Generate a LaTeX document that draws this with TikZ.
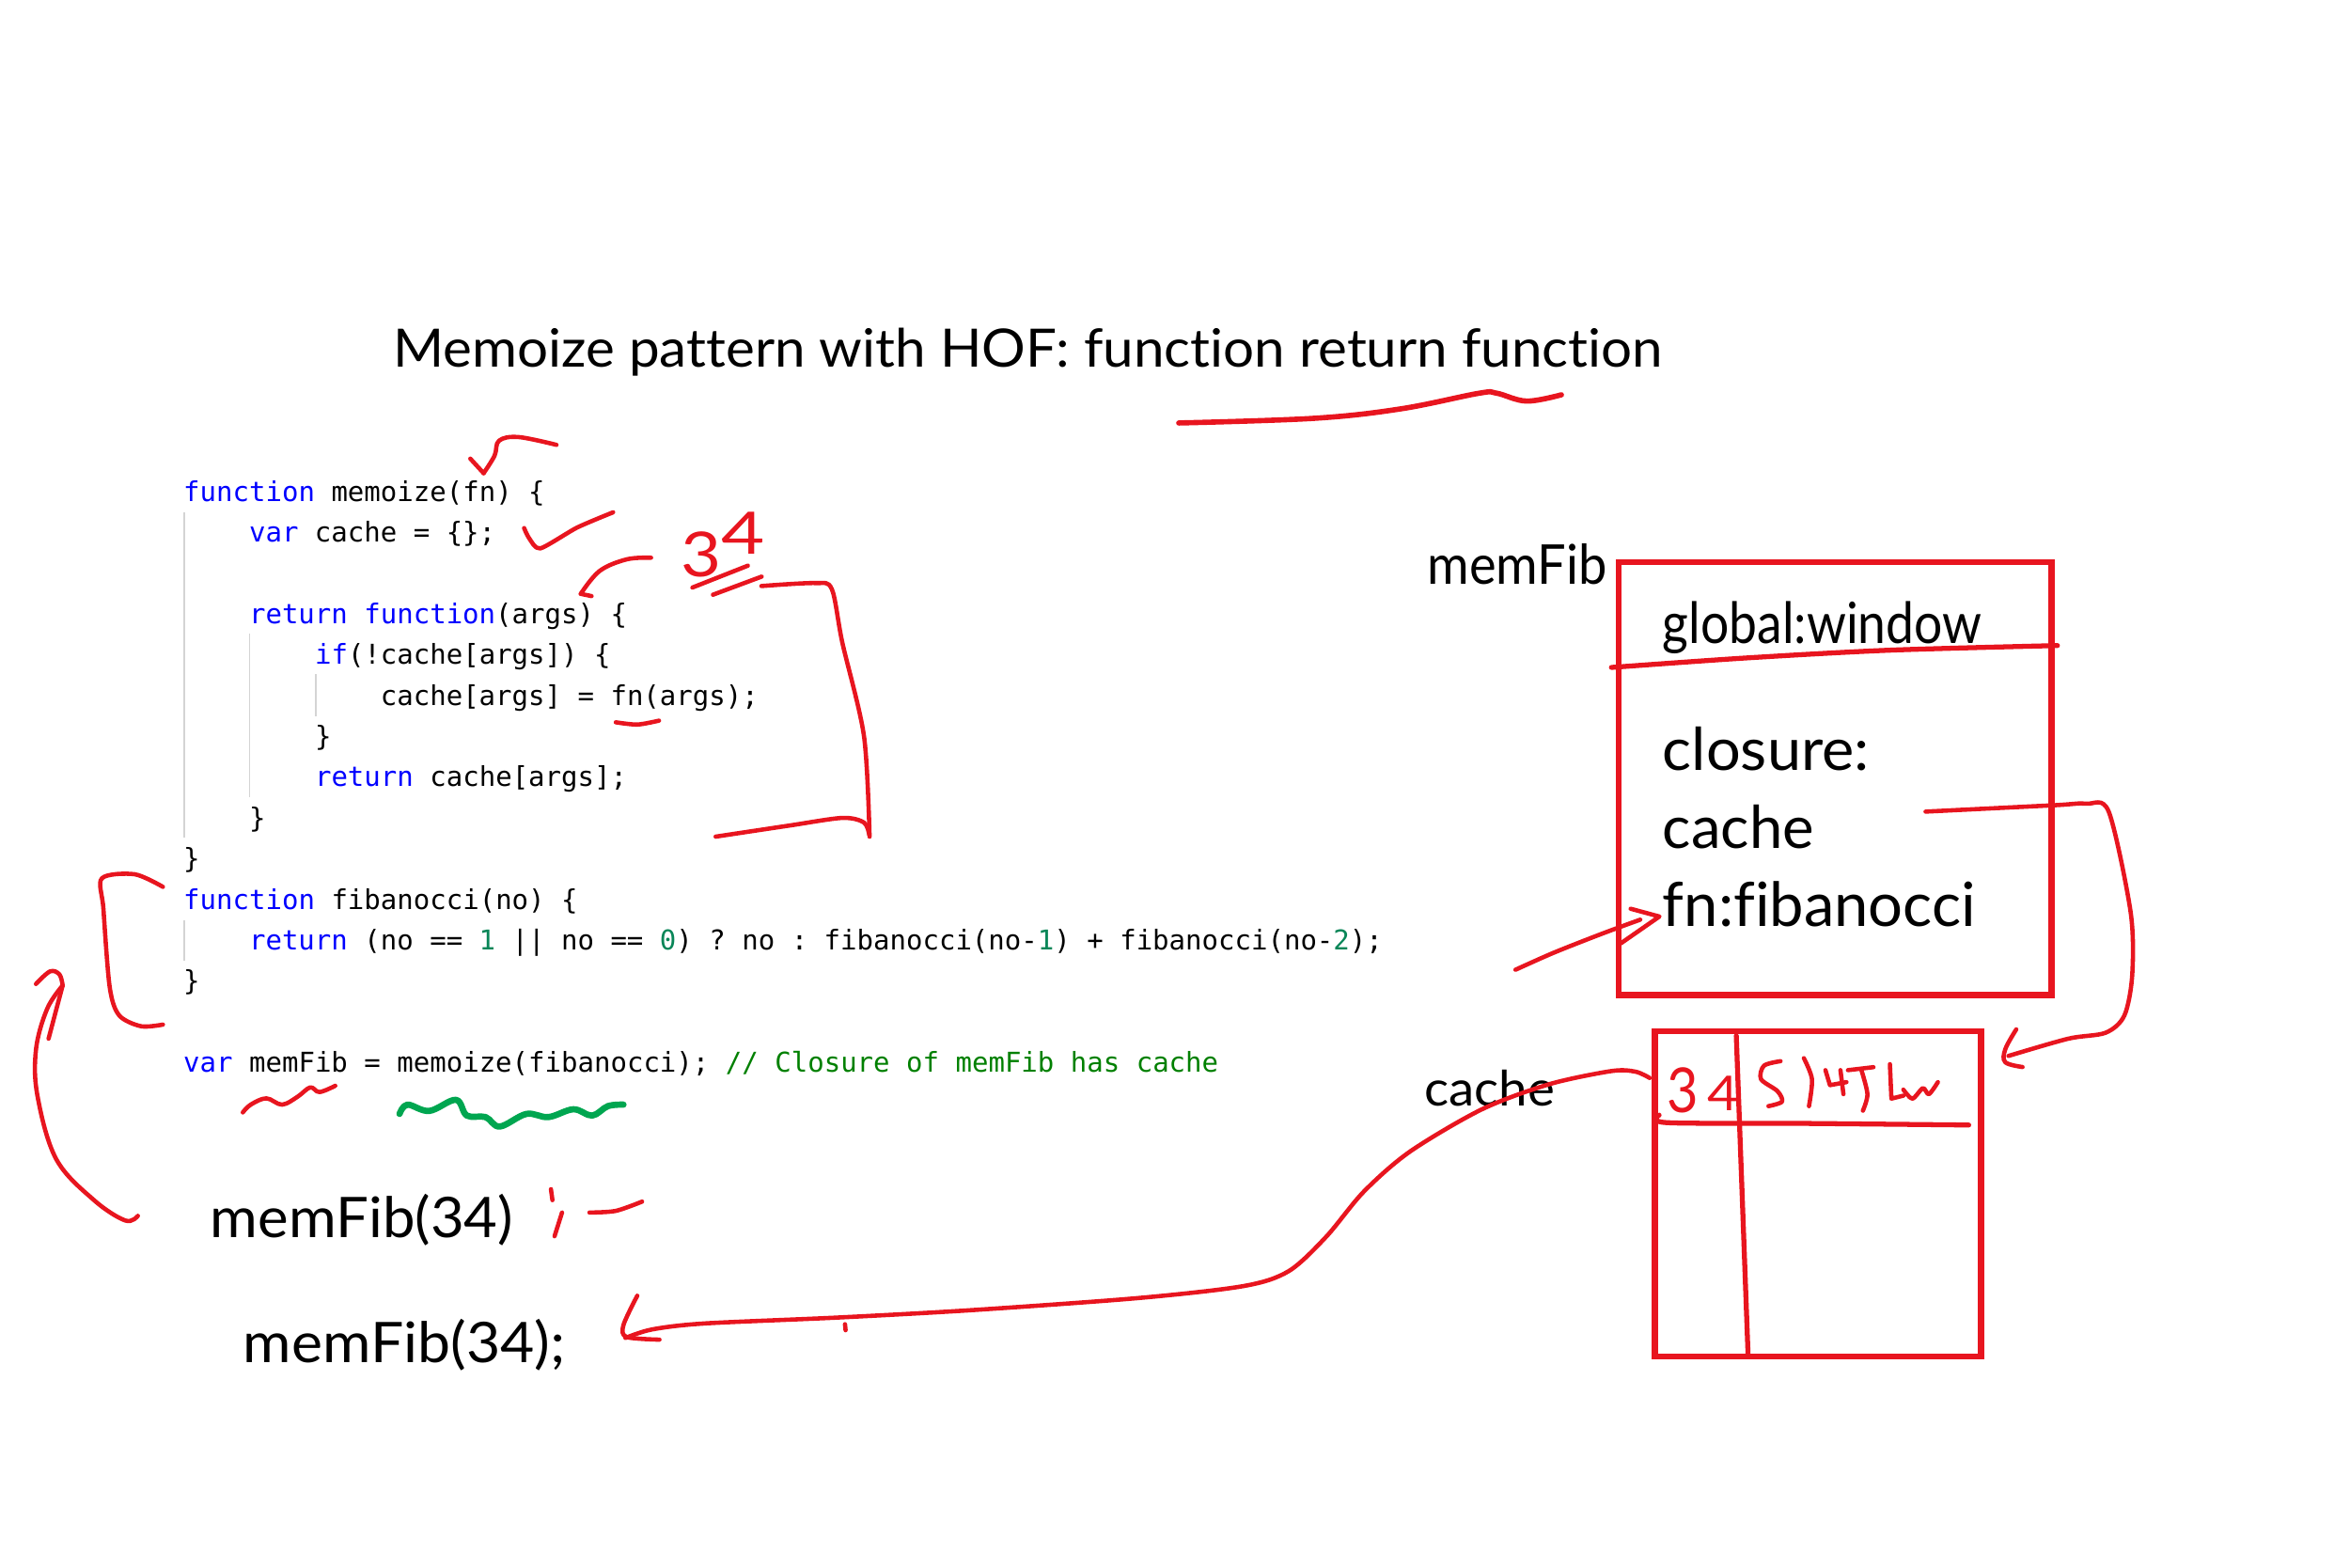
\documentclass[tikz,border=0pt]{standalone}
\usepackage{fontspec}
\usepackage{graphicx}
\setmonofont{DejaVu Sans Mono}
\newfontfamily\hand[Ligatures=NoCommon]{Lato}
\definecolor{inkred}{HTML}{E8151F}
\definecolor{inkgreen}{HTML}{00A650}
\definecolor{kwblue}{HTML}{0000FF}
\definecolor{numteal}{HTML}{098658}
\definecolor{cmtgreen}{HTML}{008000}
\definecolor{guidegray}{HTML}{D4D4D4}
\newdimen\dpx \dpx=0.45357pt
\newcommand\hw[3]{\resizebox{#1\dpx}{#2\dpx}{\hand #3}}
\newcommand\kw[1]{\textcolor{kwblue}{#1}}
\newcommand\nm[1]{\textcolor{numteal}{#1}}
\tikzset{
  code/.style={anchor=base west, inner sep=0pt, font=\fontsize{8.26pt}{10pt}\ttfamily, text=black},
  handtext/.style={anchor=base west, inner sep=0pt, text=black},
  redhand/.style={anchor=base west, inner sep=0pt, text=inkred},
  ink/.style={draw=inkred, line width=1.3pt, line cap=round, line join=round},
  boxink/.style={draw=inkred, line width=1.9pt, line cap=round, line join=round},
  greenink/.style={draw=inkgreen, line width=1.9pt, line cap=round, line join=round},
  guide/.style={draw=guidegray, line width=0.5pt},
  boxnode/.style={draw=inkred, line width=1.9pt, inner sep=0pt, fill=none},
}
\begin{document}
\begin{tikzpicture}[x=0.015944cm, y=-0.015944cm]
\fill[white] (0,0) rectangle (1568,1046);
\useasboundingbox (0,0) rectangle (1568,1046);

% ---------- title ----------
\node[handtext] (title) at (262,245) {\hw{847}{26}{Memoize pattern with HOF: function return function}};
\draw[ink, line width=1.6pt] plot[smooth, tension=0.6] coordinates {(786.5,282.2) (876.6,279.1) (934.5,272.8) (986.6,262.4) (998.5,262.3) (1018.6,267.6) (1041.8,263.4)};

% ---------- code ----------
\draw[guide] (123,342) -- (123,559);
\draw[guide] (166.5,423) -- (166.5,532);
\draw[guide] (210.5,450) -- (210.5,478);
\draw[guide] (123,614) -- (123,641);

\node[code] (c0) at (122,334.5) {\kw{function} memoize(fn) \{};
\node[code] (c1) at (165.8,361.7) {\kw{var} cache = \{\};};
\node[code] (c3) at (165.8,416.1) {\kw{return} \kw{function}(args) \{};
\node[code] (c4) at (209.7,443.3) {\kw{if}(!cache[args]) \{};
\node[code] (c5) at (253.5,470.5) {cache[args] = fn(args);};
\node[code] (c6) at (209.7,497.7) {\}};
\node[code] (c7) at (209.7,524.9) {\kw{return} cache[args];};
\node[code] (c8) at (165.8,552.1) {\}};
\node[code] (c9) at (122,579.3) {\}};
\node[code] (c10) at (122,606.5) {\kw{function} fibanocci(no) \{};
\node[code] (c11) at (165.8,633.7) {\kw{return} (no == \nm{1} || no == \nm{0}) ? no : fibanocci(no-\nm{1}) + fibanocci(no-\nm{2});};
\node[code] (c12) at (122,660.9) {\}};
\node[code] (c14) at (122,715.3) {\kw{var} memFib = memoize(fibanocci); \textcolor{cmtgreen}{// Closure of memFib has cache}};

% ---------- annotations on the code ----------
% hook arrow to fn
\draw[ink] plot[smooth, tension=0.6] coordinates {(371.3,296.8) (346,291.6) (333,294) (330,304) (322.7,315.7)};
\draw[ink] (313.8,306) -- (322.7,315.7);
% check mark
\draw[ink] plot[smooth, tension=0.4] coordinates {(349.7,352.3) (353,359) (360.5,365.9) (385,352) (409.1,341.8)};
% arrow to return function
\draw[ink] plot[smooth, tension=0.6] coordinates {(434.4,372.1) (418.1,373.2) (400,381) (387.5,396.2)};
\draw[ink] (387.5,396.2) -- (394.7,397.7);
% red 34
\node[redhand] (r3) at (454,385) {\hw{27}{30}{3}};
\node[redhand] (r4) at (481,370) {\hw{29}{28}{4}};
\draw[ink] (462,392) -- (499,377.4);
\draw[ink] (475.7,396.8) -- (508.2,384.7);
% bracket around the returned function
\draw[ink] plot[smooth, tension=0.5] coordinates {(508,391) (544,389) (555,393) (562,428.6) (576.5,491.3) (580.2,558.2)};
\draw[ink] plot[smooth, tension=0.5] coordinates {(477.5,558.2) (526,550.9) (562,545.7) (576.5,548.8) (580,557)};
% fn underline
\draw[ink] plot[smooth] coordinates {(410.9,481.9) (425.3,483.4) (439.7,480.8)};
% bracket around fibanocci
\draw[ink] plot[smooth, tension=0.5] coordinates {(108.7,591.7) (89.9,583.3) (68,586) (69,606.3) (73.2,658.6) (79.5,677.4) (94.1,684.7) (108.7,683.6)};
% wavy underlines
\draw[ink] plot[smooth, tension=0.6] coordinates {(162,742.2) (167.3,737) (177.7,732.8) (188.2,737) (198.6,731.7) (207,725.5) (213.2,728.6) (223.7,724.4)};
\draw[greenink] plot[smooth, tension=0.6] coordinates {(266.6,743.2) (271.8,737) (286.4,741.2) (304.2,733.8) (311.5,744.3) (324,745.3) (333.5,751.6) (351.2,743.2) (365.9,745.3) (382.6,740.1) (395.1,744.3) (405.6,738) (416,737)};

% ---------- calls ----------
\node[handtext] (call1) at (140,826) {\hw{202}{29}{memFib(34)}};
\node[handtext] (call2) at (162,909) {\hw{215}{29}{memFib(34);}};
\draw[ink] (367.6,793.4) -- (368.6,800.7);
\draw[ink] (375,809) -- (370,824.8);
\draw[ink] plot[smooth] coordinates {(393.3,809) (410.8,807.9) (428.4,801.7)};

% big arrow from memFib(34) up to fibanocci
\coordinate (loopstart) at (92,811.2);
\coordinate (looptip) at (41.8,657.5);
\draw[ink] plot[smooth, tension=0.6] coordinates {(loopstart) (83.6,814.3) (62.7,800.7) (37.6,773.5) (25.1,731.7) (24,700.4) (31.4,673.2) (looptip)};
\draw[ink] (32.4,693) -- (looptip);
\draw[ink] plot[smooth, tension=0.6] coordinates {(looptip) (39.7,650.2) (33.4,648.1) (24,656.5)};

% ---------- memFib object ----------
\node[handtext] (memfiblabel) at (952,390) {\hw{120}{27}{memFib}};
\node[boxnode, minimum width=289*\dpx, minimum height=289*\dpx] (membox) at (1224.5,519.5) {};
\draw[ink, line width=1.5pt] plot[smooth, tension=0.5] coordinates {(1075.2,445.3) (1164.7,439) (1260.7,433.8) (1372.8,430.7)};
\node[handtext] (global) at (1109,429) {\hw{213}{28}{global:window}};
\node[handtext] (closure) at (1109,514) {\hw{138}{29}{closure:}};
\node[handtext] (cachefield) at (1109,566) {\hw{101}{29}{cache}};
\node[handtext] (fnfield) at (1109,618) {\hw{209}{30}{fn:fibanocci}};

% arrow into fn:fibanocci
\coordinate (fnfrom) at (1011.2,647);
\coordinate (fntip) at (1107.2,611.5);
\draw[ink] plot[smooth, tension=0.5] coordinates {(fnfrom) (1036.8,635.6) (1068.8,623) (1094.4,613.6)};
\draw[ink] (1088,606.3) -- (fntip) -- (1081.6,629.3);

% ---------- cache table ----------
\node[boxnode, minimum width=218*\dpx, minimum height=217*\dpx] (cachetab) at (1213,796.5) {};
\draw[ink, line width=1.5pt] (1158.5,691) -- (1166.4,905);
\draw[ink, line width=1.5pt] plot[smooth, tension=0.5] coordinates {(1107,744) (1112,749) (1200,749.5) (1313.6,750.6)};
\node[redhand] (k3) at (1112,742) {\hw{21}{30}{3}};
\node[redhand] (k4) at (1139,741) {\hw{21}{23}{4}};
% scribbled value
\draw[ink] plot[smooth, tension=0.5] coordinates {(1188,708) (1177,711) (1175,720) (1186,728) (1189,735) (1180,738)};
\draw[ink] plot[smooth, tension=0.5] coordinates {(1203.6,706) (1209,720) (1207,738)};
\draw[ink] (1218,714) -- (1221,724) -- (1232,722);
\draw[ink] (1228,714) -- (1230,730);
\draw[ink] (1233,714) -- (1250,712);
\draw[ink] plot[smooth, tension=0.5] coordinates {(1242,714) (1246,730) (1243,741)};
\draw[ink] (1261,710) -- (1262,733) -- (1270,731);
\draw[ink] plot[smooth, tension=0.5] coordinates {(1270,727) (1276,733) (1283,726) (1287,730) (1293,722)};

% arrow from closure cache to cache table
\coordinate (cacheref) at (1284.8,541.5);
\coordinate (cachetip) at (1340.1,704.5);
\draw[ink] plot[smooth, tension=0.5] coordinates {(cacheref) (1369.6,537.3) (1392,536.2) (1407,541.5) (1421.6,608.4) (1422.7,650.2) (1417.5,677.4) (1405,689) (1380,693) (cachetip)};
\draw[ink] plot[smooth, tension=0.6] coordinates {(1345.3,686.8) (1338,700) (1338,708.7) (1349.5,711.9)};

% cache label and arrow from cache table to memFib(34);
\node[handtext] (cachelabel) at (950,738) {\hw{87}{24}{cache}};
\coordinate (tabref) at (1100.7,719.2);
\coordinate (calltip) at (417.3,892.7);
\draw[ink] plot[smooth, tension=0.5] coordinates {(tabref) (1091.2,715) (1075.2,714.6) (1033.6,723.4) (988.8,740.1) (940.8,768.3) (910,795) (885,825) (860,848) (830,858) (760,866) (650,874) (560,879) (470,883) (435,887) (calltip)};
\draw[ink] plot[smooth, tension=0.5] coordinates {(425.2,864.5) (416,884) (418,892) (440,893.8)};
\draw[ink] (563.8,883.5) -- (564.2,887.5);

\end{tikzpicture}
\end{document}
